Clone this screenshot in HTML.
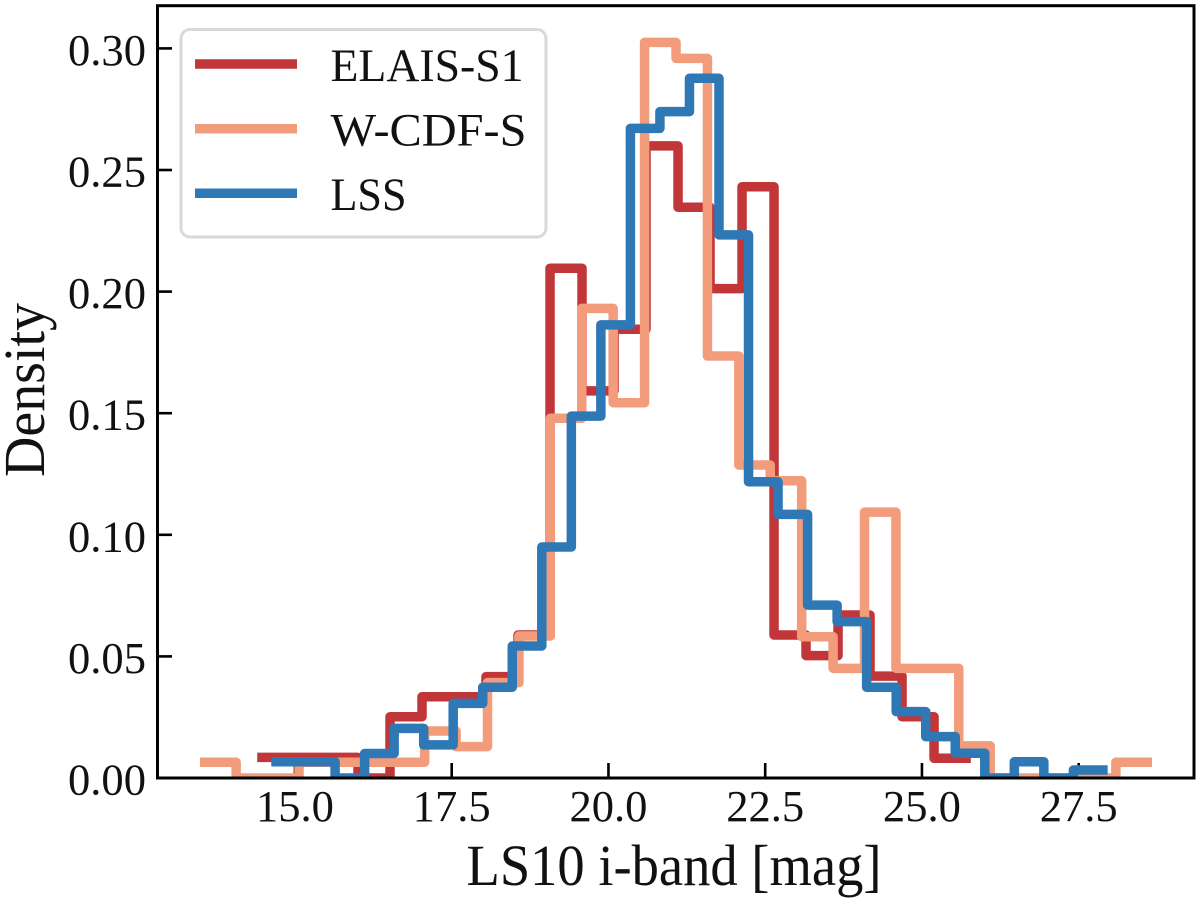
<!DOCTYPE html>
<html lang="en">
<head>
<meta charset="utf-8">
<title>LS10 i-band density histogram</title>
<style>
html,body{margin:0;padding:0;background:#fff;width:1200px;height:904px;overflow:hidden}
svg{display:block}
text{font-family:"Liberation Serif",serif;fill:#111}
</style>
</head>
<body>
<svg id="chart" xmlns="http://www.w3.org/2000/svg" width="1200" height="904" viewBox="0 0 1200 904">
  <defs><clipPath id="plot-clip"><rect x="157.5" y="5.7" width="1036.5" height="772.3"/></clipPath></defs>
  <g id="ticks"></g>
  <g id="series" clip-path="url(#plot-clip)"></g>
  <rect x="157.5" y="5.7" width="1036.5" height="772.3" fill="none" stroke="#000" stroke-width="3"/>
  <text x="466.5" y="885" font-size="58" textLength="415" lengthAdjust="spacingAndGlyphs">LS10 i-band [mag]</text>
  <text transform="translate(44,477) rotate(-90)" x="0" y="0" font-size="58" textLength="174" lengthAdjust="spacingAndGlyphs">Density</text>
  <g>
    <rect x="181" y="29.5" width="365" height="207.5" rx="9" ry="9" fill="#fff" stroke="#d9d9d9" stroke-width="3"/>
    <line x1="195" x2="297" y1="64" y2="64" stroke="#c13639" stroke-width="9.5"/>
    <text x="330.5" y="81" font-size="47" textLength="193" lengthAdjust="spacingAndGlyphs">ELAIS-S1</text>
    <line x1="195" x2="297" y1="128.7" y2="128.7" stroke="#f29c7b" stroke-width="9.5"/>
    <text x="330.5" y="145.7" font-size="47" textLength="196" lengthAdjust="spacingAndGlyphs">W-CDF-S</text>
    <line x1="195" x2="297" y1="193.3" y2="193.3" stroke="#2e78b6" stroke-width="9.5"/>
    <text x="330.5" y="210" font-size="47" textLength="76" lengthAdjust="spacingAndGlyphs">LSS</text>
  </g>
</svg>
<script>
const xTicks = [15.0, 17.5, 20.0, 22.5, 25.0, 27.5];
const xTickLabels = ["15.0", "17.5", "20.0", "22.5", "25.0", "27.5"];
const yTicks = [0, 0.05, 0.10, 0.15, 0.20, 0.25, 0.30];
const yTickLabels = ["0.00", "0.05", "0.10", "0.15", "0.20", "0.25", "0.30"];

const elaisBinStart = 14.4745;
const elaisBinWidth = 0.5104;
const elaisDensity = [0.0085, 0.0085, 0.0085, 0, 0.0252, 0.0334, 0.0334, 0.0417, 0.0588, 0.2096, 0.1592, 0.1845, 0.2599, 0.2347, 0.2012, 0.2431, 0.0588, 0.0503, 0.067, 0.0419, 0.0252, 0.0081];

const wcdfsBinStart = 13.561;
const wcdfsBinWidth = 0.5011;
const wcdfsDensity = [0.0065, 0, 0, 0.0065, 0.0065, 0.0065, 0.0065, 0.0193, 0.0129, 0.0392, 0.0584, 0.1479, 0.1931, 0.1543, 0.3025, 0.2959, 0.1735, 0.1287, 0.1222, 0.0581, 0.0451, 0.1093, 0.0451, 0.0451, 0.0132, 0, 0, 0, 0, 0.0065];

const lssBinStart = 14.698;
const lssBinWidth = 0.4710;
const lssDensity = [0.0067, 0.0067, 0, 0.0101, 0.0204, 0.0136, 0.0307, 0.0373, 0.0543, 0.095, 0.1488, 0.1863, 0.2671, 0.274, 0.2877, 0.2233, 0.1218, 0.1084, 0.0711, 0.0643, 0.0373, 0.0273, 0.017, 0.0102, 0, 0.0067, 0, 0.0033];

const NS = "http://www.w3.org/2000/svg";
function xScale(m) { return 451.7 + (m - 17.5) * 62.7; }
function yScale(d) { return 778 - d * 2432; }

function stepPath(start, width, values) {
  let d = "";
  values.forEach(function (v, i) {
    const x0 = xScale(start + i * width).toFixed(2);
    const x1 = xScale(start + (i + 1) * width).toFixed(2);
    const y = yScale(v).toFixed(2);
    d += (i === 0 ? "M" + x0 + " " + y : "L" + x0 + " " + y) + "L" + x1 + " " + y;
  });
  return d;
}

const seriesGroup = document.getElementById("series");

const elaisLine = document.createElementNS(NS, "path");


elaisLine.setAttribute("d", stepPath(elaisBinStart, elaisBinWidth, elaisDensity));
elaisLine.setAttribute("stroke", "#c13639");
seriesGroup.appendChild(elaisLine);

const wcdfsLine = document.createElementNS(NS, "path");


wcdfsLine.setAttribute("d", stepPath(wcdfsBinStart, wcdfsBinWidth, wcdfsDensity));
wcdfsLine.setAttribute("stroke", "#f29c7b");
seriesGroup.appendChild(wcdfsLine);

const lssLine = document.createElementNS(NS, "path");


lssLine.setAttribute("d", stepPath(lssBinStart, lssBinWidth, lssDensity));
lssLine.setAttribute("stroke", "#2e78b6");
seriesGroup.appendChild(lssLine);

[elaisLine, wcdfsLine, lssLine].forEach(function (p) {
  p.setAttribute("fill", "none");
  p.setAttribute("stroke-width", "9.5");
  p.setAttribute("stroke-linejoin", "round");
  p.setAttribute("stroke-linecap", "square");
});

const tickGroup = document.getElementById("ticks");
const chartSvg = document.getElementById("chart");

xTicks.forEach(function (v, i) {
  const tick = document.createElementNS(NS, "line");
  
  
  tick.setAttribute("x1", xScale(v));
  tick.setAttribute("x2", xScale(v));
  tick.setAttribute("y1", 778);
  tick.setAttribute("y2", 763);
  tick.setAttribute("stroke", "#000");
  tick.setAttribute("stroke-width", "2.6");
  tickGroup.appendChild(tick);
  const label = document.createElementNS(NS, "text");
  
  
  label.setAttribute("x", xScale(v) - 39);
  label.setAttribute("y", 821);
  label.setAttribute("font-size", "44.5");
  label.setAttribute("textLength", "78");
  label.setAttribute("lengthAdjust", "spacingAndGlyphs");
  label.textContent = xTickLabels[i];
  chartSvg.appendChild(label);
});

yTicks.forEach(function (v, i) {
  const tick = document.createElementNS(NS, "line");
  
  
  tick.setAttribute("x1", 157.5);
  tick.setAttribute("x2", 172);
  tick.setAttribute("y1", yScale(v));
  tick.setAttribute("y2", yScale(v));
  tick.setAttribute("stroke", "#000");
  tick.setAttribute("stroke-width", "2.6");
  tickGroup.appendChild(tick);
  const label = document.createElementNS(NS, "text");
  
  
  label.setAttribute("x", 68);
  label.setAttribute("y", yScale(v) + 16.5);
  label.setAttribute("font-size", "44.5");
  label.setAttribute("textLength", "78");
  label.setAttribute("lengthAdjust", "spacingAndGlyphs");
  label.textContent = yTickLabels[i];
  chartSvg.appendChild(label);
});
</script>
</body>
</html>
